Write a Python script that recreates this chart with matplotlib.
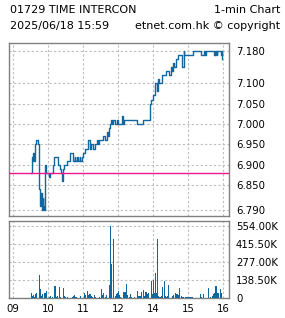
import matplotlib
matplotlib.use("Agg")
import matplotlib.pyplot as plt
from matplotlib.ticker import FixedLocator

# ---------------- data ----------------
title_left = "01729 TIME INTERCON"
title_right = "1-min Chart"
subtitle_left = "2025/06/18 15:59"
subtitle_right = "etnet.com.hk \u00a9 copyright"

prev_close = 6.88

price_times = [
    "09:31", "09:32", "09:33", "09:34", "09:35", "09:36", "09:37", "09:38", "09:40", "09:43",
    "09:44", "09:45", "09:46", "09:47", "09:48", "09:49", "09:50", "09:51", "09:52", "09:53",
    "09:54", "09:55", "09:56", "10:02", "10:03", "10:09", "10:11", "10:17", "10:20", "10:22",
    "10:24", "10:26", "10:27", "10:32", "10:38", "10:43", "10:46", "10:47", "10:50", "10:51",
    "10:54", "10:55", "10:58", "11:00", "11:03", "11:08", "11:12", "11:14", "11:17", "11:20",
    "11:24", "11:26", "11:28", "11:35", "11:38", "11:41", "11:43", "11:44", "11:46", "11:48",
    "11:50", "11:52", "11:54", "11:58", "13:00", "13:07", "13:08", "13:10", "13:32", "13:42",
    "13:54", "13:56", "14:00", "14:04", "14:06", "14:08", "14:10", "14:16", "14:23", "14:28",
    "14:30", "14:32", "14:34", "14:36", "14:40", "14:43", "14:50", "14:53", "14:54", "15:09",
    "15:22", "15:27", "15:30", "15:31", "15:45", "15:46", "15:47", "15:48", "15:49", "15:50",
    "15:57", "15:58", "15:59",
]
price_values = [
    6.88, 6.90, 6.92, 6.91, 6.93, 6.91, 6.92, 6.95, 6.96, 6.95,
    6.86, 6.84, 6.82, 6.80, 6.83, 6.81, 6.79, 6.82, 6.80, 6.79,
    6.85, 6.90, 6.88, 6.87, 6.88, 6.90, 6.92, 6.90, 6.89, 6.88,
    6.86, 6.89, 6.90, 6.91, 6.93, 6.91, 6.92, 6.91, 6.92, 6.91,
    6.92, 6.91, 6.92, 6.93, 6.94, 6.96, 6.94, 6.95, 6.94, 6.95,
    6.96, 6.95, 6.96, 6.97, 6.96, 6.98, 6.97, 6.99, 7.00, 7.01,
    7.00, 7.01, 7.00, 7.01, 7.00, 7.02, 7.00, 7.01, 7.00, 7.01,
    7.05, 7.06, 7.07, 7.10, 7.08, 7.11, 7.10, 7.12, 7.13, 7.12,
    7.14, 7.13, 7.15, 7.14, 7.16, 7.17, 7.14, 7.18, 7.17, 7.18,
    7.17, 7.18, 7.17, 7.18, 7.17, 7.18, 7.17, 7.18, 7.17, 7.18,
    7.17, 7.18, 7.16,
]

vol_times = [
    "09:32", "09:34", "09:35", "09:37", "09:39", "09:41", "09:46", "09:47", "09:49", "09:51",
    "09:54", "09:55", "09:57", "09:59", "10:02", "10:05", "10:08", "10:12", "10:15", "10:17",
    "10:19", "10:21", "10:26", "10:28", "10:30", "10:33", "10:42", "10:44", "10:46", "10:48",
    "10:56", "11:03", "11:05", "11:07", "11:09", "11:10", "11:12", "11:14", "11:17", "11:19",
    "11:21", "11:29", "11:31", "11:33", "11:35", "11:39", "11:41", "11:45", "11:47", "11:49",
    "11:50", "11:53", "11:55", "11:57", "11:59", "13:01", "13:03", "13:05", "13:10", "13:12",
    "13:14", "13:15", "13:17", "13:19", "13:21", "13:23", "13:28", "13:34", "13:36", "13:38",
    "13:40", "13:44", "13:46", "13:48", "13:50", "13:51", "13:53", "13:58", "13:59", "14:01",
    "14:03", "14:05", "14:06", "14:08", "14:09", "14:11", "14:13", "14:15", "14:17", "14:20",
    "14:21", "14:23", "14:25", "14:27", "14:33", "14:35", "14:38", "14:41", "14:42", "14:44",
    "14:46", "14:49", "14:51", "14:53", "14:55", "14:58", "15:00", "15:02", "15:04", "15:06",
    "15:08", "15:21", "15:23", "15:27", "15:35", "15:38", "15:42", "15:44", "15:46", "15:48",
    "15:51", "15:53", "15:55", "15:57",
]
vol_values = [  # thousands of shares
    38, 18, 25, 13, 33, 43, 176, 68, 18, 30,
    38, 43, 58, 5, 8, 18, 13, 93, 13, 18,
    83, 13, 81, 18, 13, 8, 13, 20, 23, 13,
    18, 43, 25, 58, 18, 25, 33, 18, 13, 23,
    8, 13, 68, 25, 38, 13, 25, 101, 554, 265,
    5, 454, 18, 33, 43, 58, 25, 13, 50, 50,
    108, 50, 25, 13, 33, 8, 13, 58, 20, 18,
    50, 63, 20, 50, 13, 33, 38, 133, 33, 139,
    38, 190, 43, 449, 20, 13, 13, 18, 83, 130,
    18, 13, 18, 101, 18, 25, 43, 33, 30, 25,
    76, 18, 13, 13, 13, 13, 13, 13, 13, 13,
    13, 33, 13, 33, 76, 13, 20, 30, 38, 93,
    38, 38, 68, 38,
]

xtick_times = ["09:00", "10:00", "11:00", "12:00", "14:00", "15:00", "16:00"]
xtick_labels = ["09", "10", "11", "12", "14", "15", "16"]

price_ticks = [6.79, 6.85, 6.90, 6.95, 7.00, 7.05, 7.10, 7.18]
vol_ticks = [0, 138.5, 277.0, 415.5, 554.0]


def tpos(t):
    """Trading-time axis position in minutes from 09:00, lunch hour removed."""
    h, m = map(int, t.split(":"))
    pos = (h - 9) * 60 + m
    if h >= 13:
        pos -= 60
    return pos


# ---------------- figure ----------------
W, H = 285, 318
fig = plt.figure(figsize=(W / 100, H / 100), dpi=100)
fig.patch.set_facecolor("white")

BLUE = "#11679f"
PINK = "#f0178a"
GRID = "#bdbdbd"
FRAME = "#808080"
FS = 7.3
TFS = 8.0


def px_rect(l, t, r, b):
    return [l / W, 1 - b / H, (r - l) / W, (b - t) / H]


ax = fig.add_axes(px_rect(9, 43, 229, 216))
axv = fig.add_axes(px_rect(9, 221, 229, 298.3))

x_lo, x_hi = -6.9, 370.3

px = [tpos(t) for t in price_times]
ax.plot(px, price_values, drawstyle="steps-post", color=BLUE, lw=1.0, zorder=3)
ax.axhline(prev_close, color=PINK, lw=1.0, zorder=4)
ax.set_xlim(x_lo, x_hi)
ax.set_ylim(6.7748, 7.1984)

vx = [tpos(t) for t in vol_times]
vv = [v * 1000 for v in vol_values]
axv.bar(vx, vv, width=1.8, color=BLUE, linewidth=0, zorder=3)
axv.set_xlim(x_lo, x_hi)
axv.set_ylim(0, 590000)

xt = [tpos(t) for t in xtick_times]
for a in (ax, axv):
    a.set_facecolor("white")
    for s in a.spines.values():
        s.set_color(FRAME)
        s.set_linewidth(1.0)
    a.xaxis.set_major_locator(FixedLocator(xt))
    a.grid(True, color=GRID, linestyle=(0, (2, 2)), linewidth=0.8, zorder=0)
    a.yaxis.tick_right()
    a.tick_params(axis="both", length=0, labelsize=FS, colors="black", pad=4)
    a.tick_params(axis="y", pad=5)

ax.set_xticklabels([])
ax.set_yticks(price_ticks)
ax.set_yticklabels([f"{v:.3f}" for v in price_ticks])

axv.set_xticks(xt)
axv.set_xticklabels(xtick_labels)
axv.set_yticks([v * 1000 for v in vol_ticks])
axv.set_yticklabels(["0" if v == 0 else f"{v:.2f}K" for v in vol_ticks])

fig.text(10 / W, 1 - 10 / H, title_left, ha="left", va="center", fontsize=TFS)
fig.text(280 / W, 1 - 10 / H, title_right, ha="right", va="center", fontsize=TFS)
fig.text(10 / W, 1 - 26 / H, subtitle_left, ha="left", va="center", fontsize=TFS)
fig.text(280 / W, 1 - 26 / H, subtitle_right, ha="right", va="center", fontsize=TFS)

fig.savefig("out.png", dpi=100, facecolor="white")
